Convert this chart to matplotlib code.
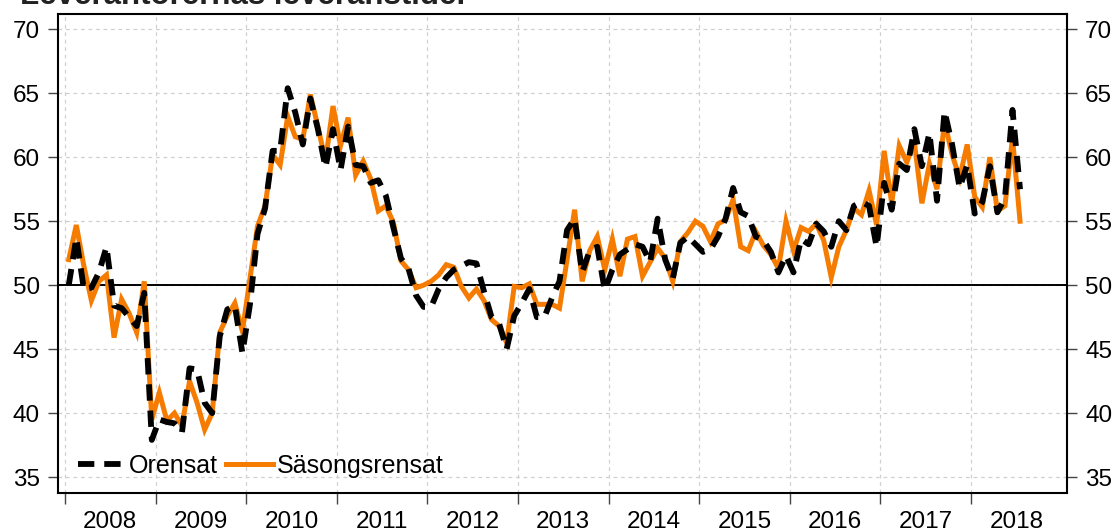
import matplotlib
matplotlib.use("Agg")
import matplotlib.pyplot as plt
import numpy as np

plt.rcParams['font.family'] = ['Liberation Sans', 'DejaVu Sans']

title = "Leverantörernas leveranstider"
start_year = 2008
years = list(range(2008, 2019))
year_labels = [str(y) for y in years]
y_ticks = [35, 40, 45, 50, 55, 60, 65, 70]
legend_labels = ["Orensat", "Säsongsrensat"]

# Monthly values Jan 2008 .. Jul 2018
orensat = [
    50.0, 53.7, 49.7, 49.8, 51.0, 53.0, 48.4, 48.2, 47.5, 46.8, 49.4, 37.9,   # 2008
    39.5, 39.3, 39.2, 38.5, 43.5, 43.4, 40.8, 40.0, 46.0, 48.1, 48.4, 44.7,   # 2009
    48.5, 54.0, 56.0, 60.5, 60.5, 65.4, 63.5, 61.0, 64.6, 62.2, 59.2, 62.2,   # 2010
    59.0, 62.4, 59.4, 59.3, 58.0, 58.2, 57.0, 54.5, 52.1, 51.3, 49.2, 48.3,   # 2011
    48.3, 49.7, 50.6, 51.2, 51.5, 51.8, 51.7, 49.5, 47.5, 47.0, 45.0, 47.6,   # 2012
    48.6, 49.7, 47.5, 47.5, 49.0, 50.3, 54.3, 55.2, 51.0, 52.7, 53.0, 49.6,   # 2013
    51.2, 52.4, 52.8, 53.2, 53.0, 51.8, 55.2, 52.0, 50.5, 53.3, 53.8, 53.2,   # 2014
    52.6, 52.8, 53.8, 55.2, 57.6, 55.7, 55.4, 53.8, 53.5, 52.6, 51.0, 52.3,   # 2015
    51.0, 53.6, 53.2, 54.8, 54.2, 53.0, 55.0, 54.3, 56.2, 56.5, 56.2, 53.0,   # 2016
    58.0, 55.9, 59.5, 59.0, 62.2, 59.3, 61.9, 56.6, 63.6, 61.0, 57.6, 59.4,   # 2017
    55.6, 56.5, 59.3, 55.7, 56.8, 63.7, 57.5,                                 # 2018
]
sasongsrensat = [
    52.0, 54.7, 51.5, 48.8, 50.3, 50.8, 45.9, 48.9, 47.8, 46.3, 50.3, 39.5,   # 2008
    41.6, 39.4, 40.0, 39.0, 42.5, 40.8, 38.7, 40.0, 46.3, 47.6, 48.6, 46.4,   # 2009
    50.5, 54.6, 56.2, 60.2, 59.4, 63.2, 61.6, 61.4, 64.9, 62.4, 59.7, 64.0,   # 2010
    60.9, 63.1, 58.6, 59.7, 58.3, 55.8, 56.2, 54.9, 51.9, 51.2, 49.8, 50.0,   # 2011
    50.3, 50.8, 51.6, 51.4, 49.9, 49.0, 49.7, 48.8, 47.3, 46.8, 45.5, 49.9,   # 2012
    49.8, 50.1, 48.5, 48.5, 48.5, 48.2, 52.0, 55.9, 50.3, 52.7, 53.8, 51.2,   # 2013
    53.6, 50.7, 53.6, 53.8, 50.7, 51.8, 52.9, 52.1, 50.3, 53.4, 54.1, 55.0,   # 2014
    54.6, 53.4, 54.8, 55.1, 56.7, 53.0, 52.7, 54.2, 53.1, 52.4, 51.3, 55.0,   # 2015
    52.7, 54.5, 54.2, 54.8, 53.5, 50.6, 53.0, 54.3, 56.0, 55.5, 57.4, 54.7,   # 2016
    60.5, 56.4, 60.9, 59.6, 61.2, 56.4, 59.5, 57.5, 62.8, 60.2, 58.4, 61.0,   # 2017
    56.9, 56.1, 60.0, 55.8, 56.2, 61.5, 55.0,                                 # 2018
]

n = len(orensat)
x = start_year + (np.arange(n) + 0.5) / 12.0

W, H = 1118, 531
fig = plt.figure(figsize=(W / 100, H / 100), dpi=100)
ax = fig.add_axes([58 / W, 1 - 493 / H, (1067 - 58) / W, (493 - 14) / H])

grid_kw = dict(color='#d0d0d0', lw=0.9, linestyle=(0, (3, 3)), zorder=0)
for yt in y_ticks:
    ax.axhline(yt, **grid_kw)
for yr in years:
    ax.axvline(yr, **grid_kw)
ax.axhline(50, color='black', lw=1.4, zorder=1)

ax.plot(x, sasongsrensat, color='#f57c00', lw=3.6, solid_joinstyle='miter',
        label=legend_labels[1], zorder=3)
ax.plot(x, orensat, color='black', lw=4.2, dashes=(2.8, 1.7),
        dash_capstyle='butt', label=legend_labels[0], zorder=4)

ax.set_xlim(2007.923, 2019.06)
ax.set_ylim(33.75, 71.2)

ax.set_yticks(y_ticks)
ax.set_yticklabels([str(v) for v in y_ticks])
ax.tick_params(axis='y', which='both', direction='out', length=7, width=1.0,
               labelsize=17.5, pad=6, left=True, right=True,
               labelleft=True, labelright=True, color='#444444')

ax.set_xticks(years)
ax.set_xticklabels([''] * len(years))
ax.set_xticks([y + 0.5 for y in years], minor=True)
ax.set_xticklabels(year_labels, minor=True)
ax.tick_params(axis='x', which='major', direction='out', length=8, width=1.0,
               color='#444444')
ax.tick_params(axis='x', which='minor', length=0, labelsize=17.5, pad=13)

for s in ax.spines.values():
    s.set_linewidth(1.5)
    s.set_color('black')

h, l = ax.get_legend_handles_labels()
order = [1, 0]
leg = ax.legend([h[i] for i in order], [l[i] for i in order], loc='lower left',
                ncol=2, frameon=False, fontsize=18, handlelength=1.9,
                handletextpad=0.15, columnspacing=0.3,
                bbox_to_anchor=(0.0, -0.01), borderaxespad=0.4)

fig.text(20 / W, 1 - 4 / H, title, fontsize=22.5, fontweight='bold',
         ha='left', va='baseline', color='#222222')

fig.savefig('out.png', dpi=100)
